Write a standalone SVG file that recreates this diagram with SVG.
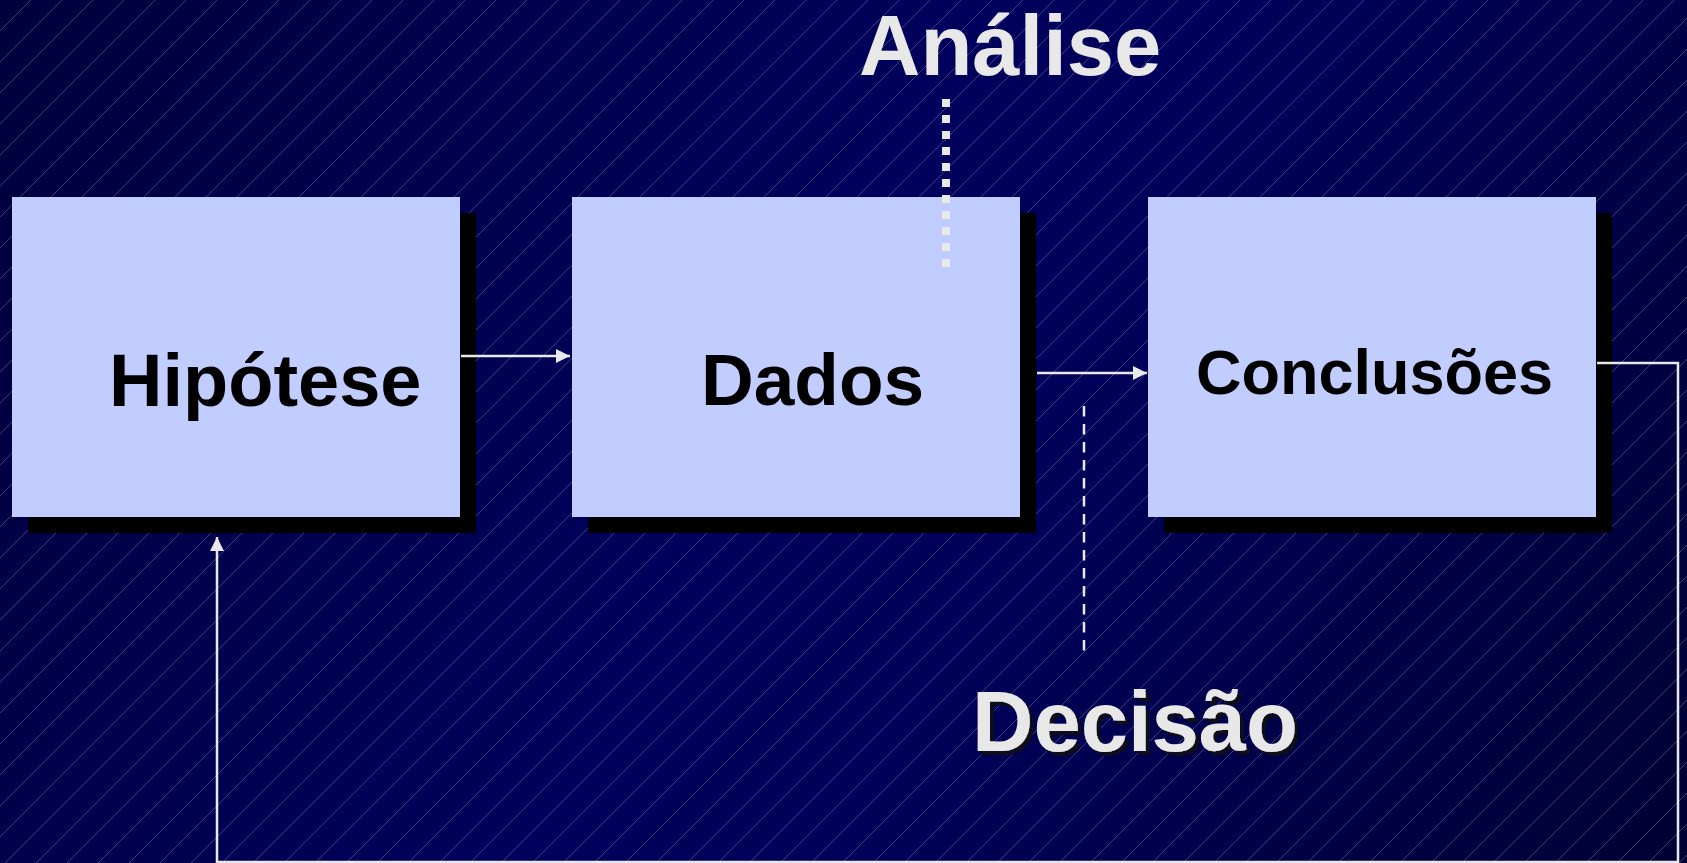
<svg xmlns="http://www.w3.org/2000/svg" width="1687" height="863" viewBox="0 0 1687 863">
<defs>
<linearGradient id="bg" gradientUnits="userSpaceOnUse" x1="0" y1="0" x2="1687" y2="863">
<stop offset="0" stop-color="#00003c"/>
<stop offset="0.45" stop-color="#00005c"/>
<stop offset="0.6" stop-color="#00005a"/>
<stop offset="1" stop-color="#000034"/>
</linearGradient>
<pattern id="stripes" patternUnits="userSpaceOnUse" width="31" height="31">
<path d="M-8,8 L8,-8 M0,31 L31,0 M23,39 L39,23" stroke="#7a7ab8" stroke-width="1" stroke-opacity="0.5" fill="none"/>
</pattern>
<marker id="arr" viewBox="0 0 10 10" refX="10" refY="5" markerUnits="userSpaceOnUse" markerWidth="15" markerHeight="14" orient="auto">
<path d="M0,0 L10,5 L0,10 Z" fill="#e8e8e8"/>
</marker>
<filter id="tshadow" x="-5%" y="-5%" width="115%" height="120%">
<feOffset in="SourceAlpha" dx="3.5" dy="3.5" result="o"/>
<feFlood flood-color="#0a0a1e"/>
<feComposite in2="o" operator="in" result="s"/>
<feMerge><feMergeNode in="s"/><feMergeNode in="SourceGraphic"/></feMerge>
</filter>
</defs>
<style>
.box{fill:#c1ccff}
.shadow{fill:#000000}
.lbl{font-family:"Liberation Sans",Arial,sans-serif;font-weight:bold;fill:#000000}
.big{font-family:"Liberation Sans",Arial,sans-serif;font-weight:bold;fill:#e8e8e8}
.conn{stroke:#e8e8e8;stroke-width:2.5;fill:none}
</style>
<rect width="1687" height="863" fill="url(#bg)"/>
<rect width="1687" height="863" fill="url(#stripes)"/>

<g id="node-hipotese">
<rect class="shadow" x="28" y="213" width="448" height="320"/>
<rect class="box" x="12" y="197" width="448" height="320"/>
<text class="lbl" x="109" y="406" font-size="74">Hipótese</text>
</g>
<g id="node-dados">
<rect class="shadow" x="588" y="213" width="448" height="320"/>
<rect class="box" x="572" y="197" width="448" height="320"/>
<text class="lbl" x="701" y="405" font-size="73">Dados</text>
</g>
<g id="node-conclusoes">
<rect class="shadow" x="1164" y="213" width="448" height="320"/>
<rect class="box" x="1148" y="197" width="448" height="320"/>
<text class="lbl" x="1196" y="394" font-size="63">Conclusões</text>
</g>

<g id="label-analise">
<text class="big" x="859" y="75" font-size="85">Análise</text>
</g>
<g id="label-decisao">
<text class="big" x="972" y="751" font-size="85" filter="url(#tshadow)">Decisão</text>
</g>

<g id="connectors">
<line class="conn" x1="461" y1="356" x2="570" y2="356" marker-end="url(#arr)"/>
<line class="conn" x1="1037" y1="373" x2="1147" y2="373" marker-end="url(#arr)"/>
<polyline class="conn" points="1597,363 1678,363 1678,862 217,862 217,537" marker-end="url(#arr)"/>
<line x1="946" y1="99" x2="946" y2="267" stroke="#e8e8e8" stroke-width="8" stroke-dasharray="8 8"/>
<line x1="1084" y1="406" x2="1084" y2="658" stroke="#e8e8e8" stroke-width="2.5" stroke-dasharray="10.5 7.5"/>
</g>
</svg>
